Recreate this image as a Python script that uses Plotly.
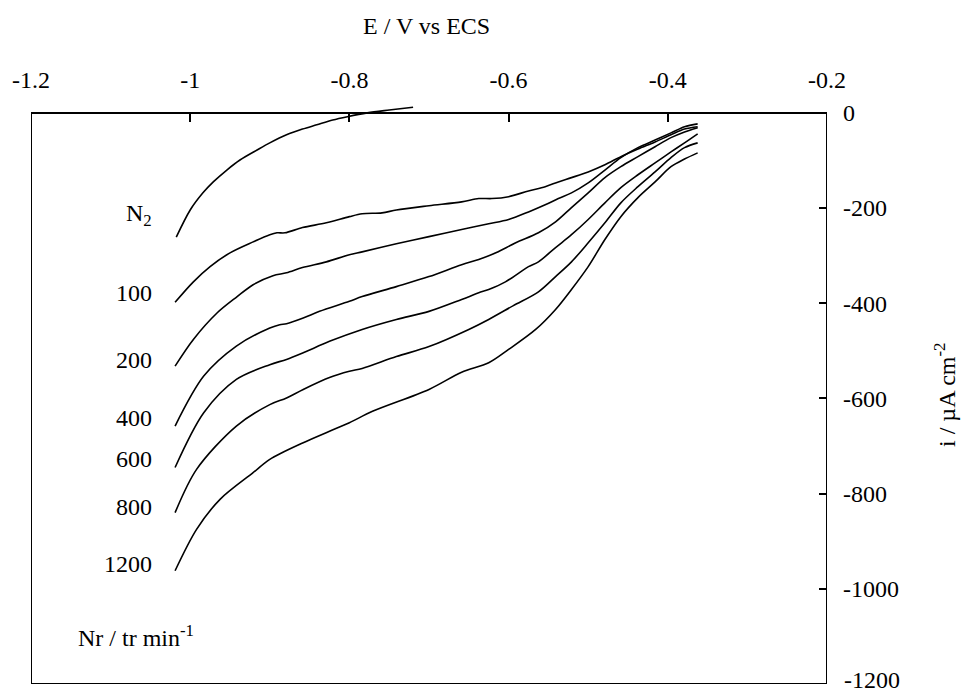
import plotly.graph_objects as go

# ---- data ----
E_N2 = [-1.0175, -1.0, -0.984, -0.971, -0.954, -0.9375, -0.916, -0.9, -0.879, -0.859, -0.841, -0.821, -0.8025, -0.7775, -0.75, -0.72]
I_N2 = [-261, -204, -168, -145, -120, -99, -78, -63, -46, -34, -25, -15, -8, 0, 6, 12]

E_100 = [-1.019, -0.996, -0.975, -0.95, -0.921, -0.9, -0.891, -0.881, -0.859, -0.829, -0.8, -0.784, -0.759, -0.741, -0.7, -0.659, -0.6375, -0.621, -0.6, -0.575, -0.554, -0.5375, -0.521, -0.5, -0.479, -0.459, -0.4375, -0.416, -0.396, -0.379, -0.3625]
I_100 = [-398, -355, -323, -294, -271, -256, -252, -252, -241, -231, -218, -212, -210, -204, -195, -187, -180, -180, -176, -164, -155, -145, -136, -124, -109, -92, -76, -61, -46, -34, -29]

E_200 = [-1.019, -0.996, -0.966, -0.941, -0.921, -0.896, -0.879, -0.859, -0.829, -0.8, -0.784, -0.741, -0.7, -0.659, -0.625, -0.6, -0.575, -0.554, -0.5375, -0.521, -0.5, -0.479, -0.459, -0.4375, -0.416, -0.396, -0.379, -0.3625]
I_200 = [-532, -476, -420, -386, -361, -342, -336, -325, -313, -298, -292, -275, -260, -245, -233, -224, -208, -193, -180, -168, -147, -120, -94, -73, -57, -42, -29, -23]

E_400 = [-1.019, -0.983, -0.942, -0.9, -0.8875, -0.879, -0.858, -0.8375, -0.8, -0.784, -0.741, -0.7, -0.659, -0.6375, -0.616, -0.591, -0.5625, -0.541, -0.521, -0.5, -0.479, -0.459, -0.4375, -0.416, -0.396, -0.379, -0.3625]
I_400 = [-658, -553, -490, -452, -445, -443, -431, -417, -396, -386, -365, -344, -319, -308, -294, -273, -252, -229, -199, -168, -136, -113, -92, -71, -52, -40, -31]

E_600 = [-1.019, -0.983, -0.942, -0.9, -0.879, -0.858, -0.825, -0.784, -0.741, -0.7, -0.659, -0.6375, -0.625, -0.604, -0.575, -0.5625, -0.541, -0.521, -0.5, -0.479, -0.459, -0.4375, -0.416, -0.396, -0.379, -0.3625]
I_600 = [-745, -630, -560, -529, -518, -504, -480, -455, -434, -417, -392, -378, -371, -355, -323, -313, -283, -256, -224, -189, -157, -130, -105, -82, -63, -44]

E_800 = [-1.019, -0.992, -0.942, -0.9, -0.879, -0.858, -0.825, -0.8, -0.784, -0.741, -0.7, -0.65, -0.625, -0.594, -0.5625, -0.541, -0.521, -0.5, -0.479, -0.459, -0.4375, -0.416, -0.396, -0.379, -0.3625]
I_800 = [-840, -749, -658, -613, -599, -581, -556, -543, -537, -512, -491, -455, -434, -405, -376, -344, -313, -273, -231, -189, -155, -124, -94, -73, -63]

E_1200 = [-1.019, -0.992, -0.9625, -0.921, -0.9, -0.858, -0.825, -0.8, -0.771, -0.7, -0.659, -0.625, -0.6, -0.566, -0.541, -0.521, -0.5, -0.479, -0.459, -0.4375, -0.416, -0.396, -0.379, -0.3625]
I_1200 = [-962, -875, -812, -756, -728, -693, -669, -651, -627, -581, -545, -525, -497, -455, -413, -371, -323, -266, -218, -178, -145, -113, -97, -84]

series = [("N2", E_N2, I_N2), ("100", E_100, I_100), ("200", E_200, I_200),
          ("400", E_400, I_400), ("600", E_600, I_600), ("800", E_800, I_800),
          ("1200", E_1200, I_1200)]

curve_labels = ["N<sub>2</sub>", "100", "200", "400", "600", "800", "1200"]
label_y = [-215, -379, -520, -642, -728, -829, -947]

x_ticks = [-1.2, -1.0, -0.8, -0.6, -0.4, -0.2]
x_ticktext = ["-1.2", "-1", "-0.8", "-0.6", "-0.4", "-0.2"]
y_ticks = [0, -200, -400, -600, -800, -1000, -1200]
y_ticktext = ["0", "-200", "-400", "-600", "-800", "-1000", "-1200"]

FONT = "Liberation Serif"
FS = 24

fig = go.Figure()
for name, e, i in series:
    fig.add_trace(go.Scatter(x=e, y=i, mode="lines", name=name,
                             line=dict(color="black", width=1.6, shape="spline", smoothing=0.9),
                             showlegend=False, hoverinfo="skip"))

y_top = 25
y_range = [-1200, y_top]
pos0 = 1200 / (1200 + y_top)

# last y tick label is drawn as an annotation nudged up so it stays inside the page
y_axis_text = y_ticktext[:-1] + [""]

fig.update_layout(
    width=978, height=695,
    margin=dict(l=31, r=151, t=101, b=11, autoexpand=False),
    paper_bgcolor="white", plot_bgcolor="white",
    font=dict(family=FONT, size=FS, color="black"),
    xaxis=dict(range=[-1.2, -0.2], side="top", anchor="free", position=pos0,
               tickvals=x_ticks, ticktext=x_ticktext, ticks="inside", ticklen=8,
               tickwidth=1.5, tickcolor="black", showgrid=False, zeroline=False,
               showline=False, ticklabelstandoff=20, automargin=False,
               ticklabeloverflow="allow", tickfont=dict(family=FONT, size=FS)),
    yaxis=dict(range=y_range, side="right", tickvals=y_ticks, ticktext=y_axis_text,
               ticks="inside", ticklen=8, tickwidth=1.5, tickcolor="black",
               showgrid=False, zeroline=False, showline=False, ticklabelstandoff=15,
               automargin=False, ticklabeloverflow="allow",
               tickfont=dict(family=FONT, size=FS)),
)

fig.add_shape(type="rect", xref="x", yref="y", x0=-1.2, x1=-0.2, y0=-1200, y1=0,
              line=dict(color="black", width=2), fillcolor="rgba(0,0,0,0)")

fig.add_annotation(x=1 + 15 / 796, y=y_ticks[-1], xref="paper", yref="y",
                   text=y_ticktext[-1], showarrow=False, xanchor="left", yanchor="bottom",
                   yshift=-11, font=dict(family=FONT, size=FS))

for txt, yy in zip(curve_labels, label_y):
    fig.add_annotation(x=-1.046, y=yy, xref="x", yref="y", text=txt, showarrow=False,
                       xanchor="right", yanchor="middle", font=dict(family=FONT, size=FS))

fig.add_annotation(x=-1.068, y=-1100, xref="x", yref="y", text="Nr / tr min<sup>-1</sup>",
                   showarrow=False, xanchor="center", yanchor="middle", font=dict(family=FONT, size=FS))

fig.add_annotation(x=(426 - 31) / 796, y=1 + (101 - 26) / 583, xref="paper", yref="paper",
                   text="E / V vs ECS", showarrow=False, xanchor="center", yanchor="middle",
                   font=dict(family=FONT, size=FS))

fig.add_annotation(x=1 + (945 - 827) / 796, y=1 - (395 - 101) / 583, xref="paper", yref="paper",
                   text="i / µA cm<sup>-2</sup>", textangle=-90, showarrow=False,
                   xanchor="center", yanchor="middle", font=dict(family=FONT, size=FS))

fig.write_html("out.html")
